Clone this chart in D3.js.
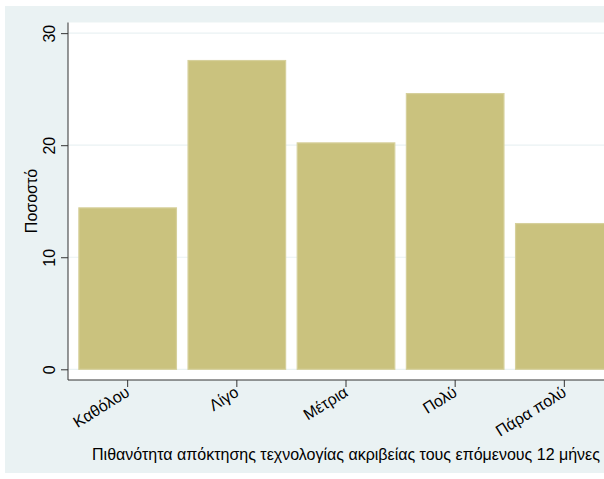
<!DOCTYPE html>
<html><head><meta charset="utf-8">
<script src="https://cdn.jsdelivr.net/npm/d3@7"></script>
<style>body{margin:0;padding:0;background:#fff;}svg{display:block;}</style>
</head><body>
<script>
const categories = ["Καθόλου", "Λίγο", "Μέτρια", "Πολύ", "Πάρα πολύ"];
const values = [14.45, 27.6, 20.25, 24.65, 13.05];
const yTicks = [0, 10, 20, 30];
const xTitle = "Πιθανότητα απόκτησης τεχνολογίας ακριβείας τους επόμενους 12 μήνες";
const yTitle = "Ποσοστό";

const W = 604, H = 479;
const FONT = "Liberation Sans, Arial, sans-serif";
const svg = d3.select("body").append("svg").attr("width", W).attr("height", H);
svg.append("rect").attr("x", 0).attr("y", 0).attr("width", W).attr("height", H).attr("fill", "#fff");
svg.append("rect").attr("x", 5).attr("y", 6).attr("width", W - 5).attr("height", H - 12).attr("fill", "#EAF2F3");

const pl = 68, pr = 624, pt = 22.5, pb = 380;
svg.append("rect").attr("x", pl).attr("y", pt).attr("width", pr - pl).attr("height", pb - pt).attr("fill", "#fff");

const y = d3.scaleLinear().domain([-0.955, 30.95]).range([pb, pt]);
const x = d3.scaleBand().domain(categories).range([pl, pr]).paddingInner(0.097).paddingOuter(0.095);

// grid
svg.append("g").selectAll("line").data(yTicks).join("line")
  .attr("x1", pl).attr("x2", pr).attr("y1", d => y(d)).attr("y2", d => y(d))
  .attr("stroke", "#EAF2F3").attr("stroke-width", 1.2);

// bars
svg.append("g").selectAll("rect").data(values).join("rect")
  .attr("x", (d, i) => x(categories[i]) + 0.5)
  .attr("width", x.bandwidth() - 1)
  .attr("y", d => y(d) + 0.5)
  .attr("height", d => y(0) - y(d) - 0.5)
  .attr("fill", "#CAC27E").attr("stroke", "#D6D09C").attr("stroke-width", 1.2);

// y axis
const yAxis = d3.axisLeft(y).tickValues(yTicks).tickSize(7).tickPadding(4).tickFormat(d3.format("d"));
const gy = svg.append("g").attr("transform", `translate(${pl},0)`).call(yAxis);
gy.select(".domain").attr("d", `M0,${pt}V${pb}`).attr("stroke", "#333");
gy.selectAll(".tick line").attr("stroke", "#333");
gy.selectAll(".tick text").attr("font-family", FONT).attr("font-size", 16).attr("fill", "#000")
  .attr("text-anchor", "middle").attr("x", null).attr("y", null)
  .attr("transform", `translate(-19,0) rotate(-90)`).attr("dy", "0.35em");

// x axis
const xAxis = d3.axisBottom(x).tickSize(7).tickPadding(3);
const gx = svg.append("g").attr("transform", `translate(0,${pb})`).call(xAxis);
gx.select(".domain").attr("d", `M${pl},0H${pr}`).attr("stroke", "#333");
gx.selectAll(".tick line").attr("stroke", "#333");
gx.selectAll(".tick text").attr("font-family", FONT).attr("font-size", 16).attr("fill", "#000")
  .attr("text-anchor", "end").attr("y", 0).attr("dy", 0)
  .attr("transform", "translate(3,15) rotate(-32)");

// titles
svg.append("text").attr("x", (pl + pr) / 2).attr("y", 460).attr("text-anchor", "middle")
  .attr("font-family", FONT).attr("font-size", 16).text(xTitle);
svg.append("text").attr("transform", `translate(37,201) rotate(-90)`).attr("text-anchor", "middle")
  .attr("font-family", FONT).attr("font-size", 16).text(yTitle);
</script>
</body></html>
